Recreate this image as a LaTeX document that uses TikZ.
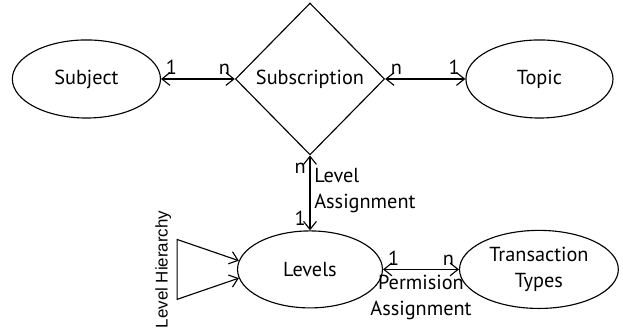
\documentclass[tikz,border=0pt]{standalone}
\usepackage{fontspec}
\setmainfont{PT Sans}
\newfontfamily\hierfont{Liberation Sans}
\usetikzlibrary{shapes.geometric, arrows.meta, positioning}
\tikzset{
  entity/.style = {ellipse, draw=black, semithick, minimum width=2.77cm, minimum height=1.46cm, align=center, inner sep=1pt},
  relation/.style = {diamond, draw=black, semithick, aspect=1, inner sep=0pt, minimum width=2.79cm, minimum height=2.84cm},
  link/.style = {semithick, {Straight Barb[length=1.5mm,width=2.4mm]}-{Straight Barb[length=1.5mm,width=2.4mm]}},
  card/.style = {inner sep=2pt}
}

\begin{document}
\begin{tikzpicture}[node distance=14mm and 14mm, every node/.style={font=\fontsize{10.8}{13.5}\selectfont}]

  % Fixed frame
  \useasboundingbox (-5.797,-4.750) rectangle (5.853,1.477);

  % Relationship in the middle
  \node (subscription) [relation] {Subscription};

  % Entities left and right
  \node (subject) [entity, left=1.38cm of subscription] {Subject};
  \node (topic) [entity, minimum width=2.75cm, right=1.5cm of subscription] {Topic};

  % Lower row
  \node (levels) [entity, minimum width=2.71cm, minimum height=1.44cm, below=1.4cm of subscription] {Levels};
  \node (trans) [entity, minimum width=2.97cm, right=1.42cm of levels] {Transaction\\Types};

  % Corners of the hierarchy loop
  \coordinate (hiertop) at ([xshift=-1.12cm, yshift=0.56cm]levels.west);
  \coordinate (hierbot) at ([xshift=-1.12cm, yshift=-0.56cm]levels.west);
  \coordinate (hiermid) at ([xshift=-1.12cm]levels.west);

  % Draw connections
  \draw[link] (subject.east) -- node[card, pos=0.14, above] {1} node[card, pos=0.86, above] {n} (subscription.west);
  \draw[link] (subscription.east) -- node[card, pos=0.14, above] {n} node[card, pos=0.86, above] {1} (topic.west);
  \draw[link] (subscription.south) -- node[card, pos=0.17, left] {n} node[card, pos=0.84, left] {1}
    node[pos=0.47, right, align=left, inner sep=2pt] {Level\\Assignment} (levels.north);
  \draw[link] (levels.east) -- node[card, pos=0.14, above] {1} node[card, pos=0.86, above] {n}
    node[midway, below, align=center, inner sep=3pt] {Permision\\Assignment} (trans.west);

  % Level hierarchy loop
  \draw[link] (levels.173) -- (hiertop) -- (hierbot) -- (levels.187);
  \node (hierlabel) [rotate=90, anchor=south, inner sep=3pt, font=\hierfont\fontsize{9}{11}\selectfont] at (hiermid) {Level Hierarchy};

\end{tikzpicture}
\end{document}
